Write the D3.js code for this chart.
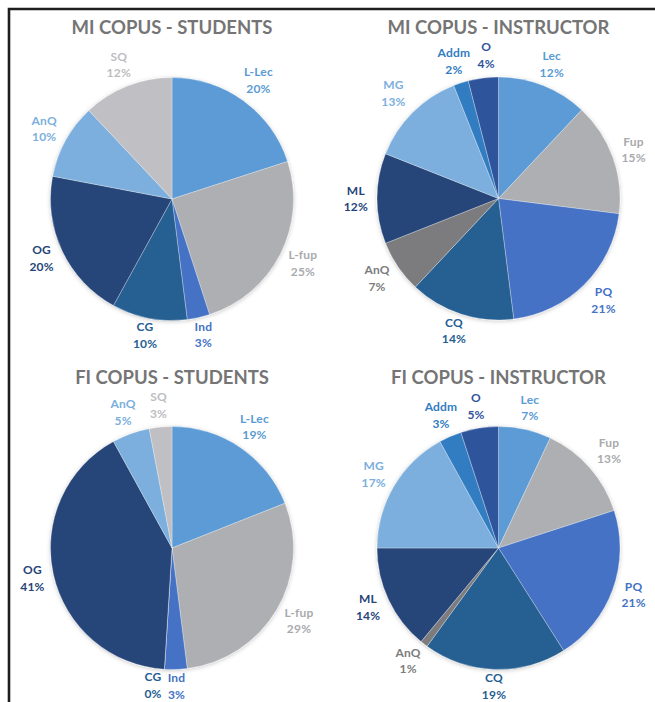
<!DOCTYPE html>
<html>
<head>
<meta charset="utf-8">
<script src="https://cdn.jsdelivr.net/npm/d3@7"></script>
<style>
  body { margin: 0; background: #fff; }
  svg { display: block; font-family: Lato, "Open Sans", sans-serif; }
</style>
</head>
<body>
<svg id="chart" width="655" height="702"></svg>
<script>
// COPUS codes and shares (%) as printed on the pie labels
const studentCodes = ['L-Lec', 'L-fup', 'Ind', 'CG', 'OG', 'AnQ', 'SQ']
const miStudentShares = [20, 25, 3, 10, 20, 10, 12]
const fiStudentShares = [19, 29, 3, 0, 41, 5, 3]

const instructorCodes = ['Lec', 'Fup', 'PQ', 'CQ', 'AnQ', 'ML', 'MG', 'Addm', 'O']
const miInstructorShares = [12, 15, 21, 14, 7, 12, 13, 2, 4]
const fiInstructorShares = [7, 13, 21, 19, 1, 14, 17, 3, 5]

const titles = ['MI COPUS - STUDENTS', 'MI COPUS - INSTRUCTOR', 'FI COPUS - STUDENTS', 'FI COPUS - INSTRUCTOR']

const studentColors = ['#5b9bd5', '#aeafb3', '#4472c4', '#255e91', '#264478', '#7cafdd', '#c0c0c4']
const studentLabelColors = ['#5b9bd5', '#a9aaae', '#4472c4', '#255e91', '#264478', '#7cafdd', '#bdbdbf']
const instructorColors = ['#5b9bd5', '#aeafb3', '#4472c4', '#255e91', '#7b7c7e', '#264478', '#7cafdd', '#327dc2', '#2f549c']
const instructorLabelColors = ['#5b9bd5', '#a9aaae', '#4472c4', '#255e91', '#7b7c7e', '#264478', '#7cafdd', '#327dc2', '#2f549c']

const panels = [
  {title: titles[0], codes: studentCodes, values: miStudentShares, colors: studentColors, labelColors: studentLabelColors, cx: 172, cy: 199, ty: 34},
  {title: titles[1], codes: instructorCodes, values: miInstructorShares, colors: instructorColors, labelColors: instructorLabelColors, cx: 498.5, cy: 198.5, ty: 34},
  {title: titles[2], codes: studentCodes, values: fiStudentShares, colors: studentColors, labelColors: studentLabelColors, cx: 172, cy: 548, ty: 384},
  {title: titles[3], codes: instructorCodes, values: fiInstructorShares, colors: instructorColors, labelColors: instructorLabelColors, cx: 498.5, cy: 548, ty: 384}
]

const radius = 121.5
const labelGap = 7

const svg = d3.select('#chart')

const defs = svg.append('defs')
defs.append('filter')
  .attr('id', 'shadow')
  .attr('x', '-20%').attr('y', '-20%').attr('width', '140%').attr('height', '140%')
  .append('feDropShadow')
  .attr('dx', 0).attr('dy', 1)
  .attr('stdDeviation', 2.2)
  .attr('flood-color', '#000')
  .attr('flood-opacity', 0.22)

// frame lines
svg.append('path')
  .attr('d', 'M9,702 V9 H655')
  .attr('fill', 'none')
  .attr('stroke', '#1e1e1e')
  .attr('stroke-width', 2.6)

const pie = d3.pie().sort(null).value(d => d.value)
const arc = d3.arc().innerRadius(0).outerRadius(radius)

panels.forEach(p => {
  const data = p.codes.map((code, i) => ({code, value: p.values[i], color: p.colors[i], labelColor: p.labelColors[i]}))
  const arcs = pie(data)

  const g = svg.append('g').attr('transform', `translate(${p.cx},${p.cy})`)

  g.append('g')
    .attr('filter', 'url(#shadow)')
    .selectAll('path')
    .data(arcs)
    .join('path')
    .attr('d', arc)
    .attr('fill', d => d.data.color)
    .attr('stroke', '#fff')
    .attr('stroke-opacity', 0.5)
    .attr('stroke-width', 0.6)

  svg.append('text')
    .attr('x', p.cx)
    .attr('y', p.ty)
    .attr('text-anchor', 'middle')
    .attr('font-size', 18.5)
    .attr('font-weight', 'bold')
    .attr('fill', '#757575')
    .text(p.title)

  // data labels outside the slice ends, nudged round the pie when they collide
  const placed = []
  arcs.forEach(d => {
    const lab = g.append('text')
      .attr('text-anchor', 'middle')
      .attr('font-size', 12)
      .attr('letter-spacing', 0.2)
      .attr('font-weight', 'bold')
      .attr('fill', d.data.labelColor)
    const t1 = lab.append('tspan').attr('x', 0).text(d.data.code)
    const t2 = lab.append('tspan').attr('x', 0).text(d.data.value + '%')

    const bb = lab.node().getBBox()
    const w = bb.width + 4
    const h = 30
    let a = (d.startAngle + d.endAngle) / 2
    const pos = ang => {
      const s = Math.sin(ang), c = Math.cos(ang)
      const ext = Math.min(Math.abs(s) > 1e-6 ? w / 2 / Math.abs(s) : Infinity,
                           Math.abs(c) > 1e-6 ? h / 2 / Math.abs(c) : Infinity)
      const dist = radius + labelGap + ext
      return [dist * s, -dist * c]
    }
    const hits = ([x, y]) => placed.some(b =>
      Math.abs(x - b.x) < (w + b.w) / 2 + 2 && Math.abs(y - b.y) < (h + b.h) / 2 - 6)
    let xy = pos(a)
    let n = 0
    while (hits(xy) && n < 60) {
      a += 0.01
      xy = pos(a)
      n++
    }
    placed.push({x: xy[0], y: xy[1], w, h})
    // labels below the pie sit a bit closer to the rim
    const c = Math.cos(a)
    const lift = c < 0 ? 5 * -c : 0
    t1.attr('y', -4 - lift)
    t2.attr('y', 12.5 - lift)
    lab.attr('transform', `translate(${xy[0]},${xy[1]})`)
  })
})
</script>
</body>
</html>
